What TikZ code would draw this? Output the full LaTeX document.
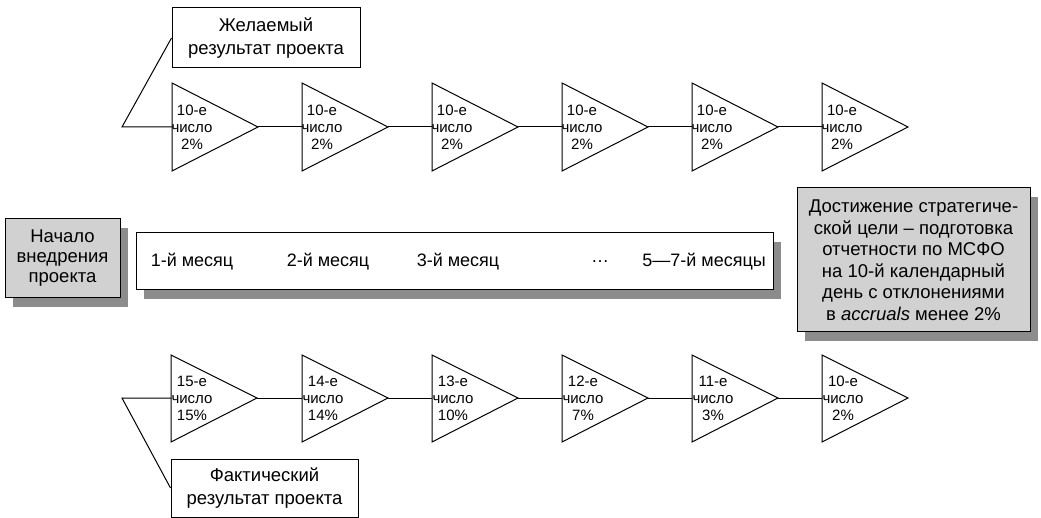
\documentclass[tikz,border=0pt]{standalone}
\usepackage{fontspec}
\setmainfont{Liberation Sans}
\usetikzlibrary{shadows}
\definecolor{boxgray}{gray}{0.82}
\definecolor{shadegray}{gray}{0.55}
\tikzset{
  thin line/.style={line width=1pt, line join=miter},
  tri/.style={thin line, draw},
  trilabel/.style={font=\fontsize{15}{17}\selectfont, align=center, inner sep=0pt},
  resultbox/.style={draw, thin line, fill=white, inner sep=0pt, align=center,
    font=\fontsize{18.5}{22.5}\selectfont},
  shadedbox/.style={draw, thin line, inner sep=0pt, align=center,
    drop shadow={shadow xshift=8pt, shadow yshift=-9pt, fill=shadegray, opacity=1}},
  monthlabel/.style={font=\fontsize{18}{20}\selectfont, inner sep=0pt},
}
\begin{document}
\begin{tikzpicture}[x=1pt, y=-1pt]
  \useasboundingbox (0,0) rectangle (1041,518);

  % planned results, upper chain
  \foreach \i/\x/\d/\p in {1/172/10/2, 2/302/10/2, 3/432/10/2, 4/562/10/2, 5/692/10/2, 6/822/10/2} {
    \draw[tri] (\x,83) -- (\x+86,127) -- (\x,171) -- cycle;
    \coordinate (u\i L) at (\x,127);
    \coordinate (u\i R) at (\x+86,127);
    \node[trilabel] (u\i t) at (\x+20,127) {\d-е\\число\\\p\%};
  }
  \foreach \a/\b in {1/2, 2/3, 3/4, 4/5, 5/6}
    \draw[thin line] (u\a R) -- (u\b L);

  % actual results, lower chain
  \foreach \i/\x/\d/\p in {1/171/15/15, 2/302/14/14, 3/432/13/10, 4/562/12/7, 5/692/11/3, 6/822/10/2} {
    \draw[tri] (\x,355) -- (\x+86,398) -- (\x,442) -- cycle;
    \coordinate (l\i L) at (\x,398);
    \coordinate (l\i R) at (\x+86,398);
    \node[trilabel] (l\i t) at (\x+21,398) {\d-е\\число\\\p\%};
  }
  \foreach \a/\b in {1/2, 2/3, 3/4, 4/5, 5/6}
    \draw[thin line] (l\a R) -- (l\b L);

  % result boxes with their brackets
  \node[resultbox, minimum width=188pt, minimum height=60pt] (want) at (266,38)
    {Желаемый\\результат проекта};
  \coordinate (uv) at (122,127);
  \draw[thin line] (want.west) -- (uv) -- (u1L);

  \node[resultbox, minimum width=187pt, minimum height=58pt] (fact) at (264.5,488)
    {Фактический\\результат проекта};
  \coordinate (lv) at (122,398);
  \draw[thin line] (fact.west) -- (lv) -- (l1L);

  % start of the project
  \node[shadedbox, fill=boxgray, minimum width=115pt, minimum height=79pt,
    font=\fontsize{18.5}{20}\selectfont] (start) at (62.5,258.5)
    {Начало\\внедрения\\проекта};

  % time line
  \node[shadedbox, fill=white, minimum width=637pt, minimum height=57pt] (months) at (454.5,261.5) {};
  \node[monthlabel] (m1) at (192,262) {1-й месяц};
  \node[monthlabel] (m2) at (328,262) {2-й месяц};
  \node[monthlabel] (m3) at (458,262) {3-й месяц};
  \node[monthlabel] (m4) at (600,262) {\dots};
  \node[monthlabel, anchor=east] (m5) at (766,262) {5—7-й месяцы};

  % strategic goal
  \node[shadedbox, fill=boxgray, minimum width=233pt, minimum height=144pt,
    font=\fontsize{18.5}{21.5}\selectfont] (goal) at (913.5,260)
    {Достижение стратегиче-\\ской цели – подготовка\\отчетности по МСФО\\на 10-й календарный\\день с отклонениями\\в \textit{accruals} менее 2\%};
\end{tikzpicture}
\end{document}
